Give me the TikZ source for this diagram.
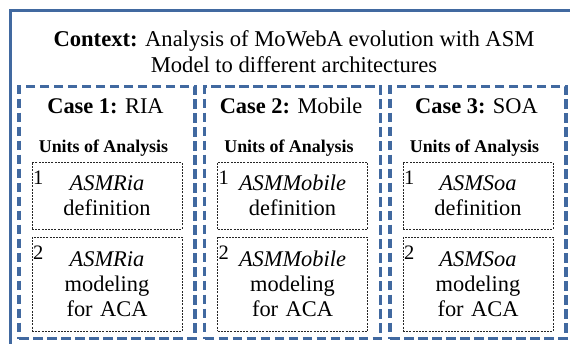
\documentclass[tikz,border=0pt]{standalone}
\usepackage{fontspec}
\setmainfont{Liberation Serif}
\usepackage{tikz}
\usetikzlibrary{positioning, calc}
\definecolor{cFrame}{RGB}{65,105,160}
\tikzset{
	casebox/.style={rectangle, draw=cFrame, line width=3.3pt, dash pattern=on 9.5pt off 4.5pt, minimum width=176pt, minimum height=252pt, outer sep=0pt, inner sep=0pt},
	unitbox/.style={rectangle, draw=black!85, line width=0.7pt, dash pattern=on 2pt off 1.2pt, minimum width=150pt, text width=146pt, align=center, inner sep=2pt, outer sep=0pt, font=\fontsize{22.4}{25}\selectfont},
	casetitle/.style={anchor=base, font=\fontsize{22.4}{27}\selectfont},
	unittitle/.style={anchor=base, font=\fontsize{17.9}{20}\selectfont\bfseries},
	unitnum/.style={anchor=north west, inner xsep=1pt, inner ysep=8.5pt, font=\fontsize{20.5}{24}\selectfont},
}
\begin{document}
\begin{tikzpicture}[x=1pt, y=-1pt]
	\useasboundingbox (0,0) rectangle (570,343);
	\clip (0,0) rectangle (570,343);
	% outer frame, cut by the page edge
	\draw[cFrame, line width=3pt] (10.3,10.3) rectangle (590,360);
	\node[align=center, inner sep=0pt, font=\fontsize{22.6}{26}\selectfont] (ctx) at (294,51.3)
		{\textbf{Context:} Analysis of MoWebA evolution with ASM\\Model to different architectures};
	% cases
	\node[casebox] (case1) at (107,212.5) {};
	\node[casebox, right=9.5pt of case1] (case2) {};
	\node[casebox, right=9.5pt of case2] (case3) {};
	\node[casetitle] (t1) at ($(case1.north)+(-1.5,26.5)$) {\textbf{Case 1:} RIA};
	\node[casetitle] (t2) at ($(case2.north)+(-1.5,26.5)$) {\textbf{Case 2:} Mobile};
	\node[casetitle] (t3) at ($(case3.north)+(-1.5,26.5)$) {\textbf{Case 3:} SOA};
	\node[unittitle] (u1) at ($(case1.north)+(-3.5,65.5)$) {Units of Analysis};
	\node[unittitle] (u2) at ($(case2.north)+(-3.5,65.5)$) {Units of Analysis};
	\node[unittitle] (u3) at ($(case3.north)+(-3.5,65.5)$) {Units of Analysis};
	% units of analysis
	\node[unitbox, minimum height=67pt, below=75.5pt of case1.north] (def1) {\textit{ASMRia}\\definition};
	\node[unitbox, minimum height=94pt, below=8.3pt of def1] (mod1) {\textit{ASMRia}\\modeling\\for ACA};
	\node[unitbox, minimum height=67pt, below=75.5pt of case2.north] (def2) {\textit{ASMMobile}\\definition};
	\node[unitbox, minimum height=94pt, below=8.3pt of def2] (mod2) {\textit{ASMMobile}\\modeling\\for ACA};
	\node[unitbox, minimum height=67pt, below=75.5pt of case3.north] (def3) {\textit{ASMSoa}\\definition};
	\node[unitbox, minimum height=94pt, below=8.3pt of def3] (mod3) {\textit{ASMSoa}\\modeling\\for ACA};
	\node[unitnum] (n1a) at (def1.north west) {1};
	\node[unitnum] (n1b) at (mod1.north west) {2};
	\node[unitnum] (n2a) at (def2.north west) {1};
	\node[unitnum] (n2b) at (mod2.north west) {2};
	\node[unitnum] (n3a) at (def3.north west) {1};
	\node[unitnum] (n3b) at (mod3.north west) {2};
\end{tikzpicture}
\end{document}
